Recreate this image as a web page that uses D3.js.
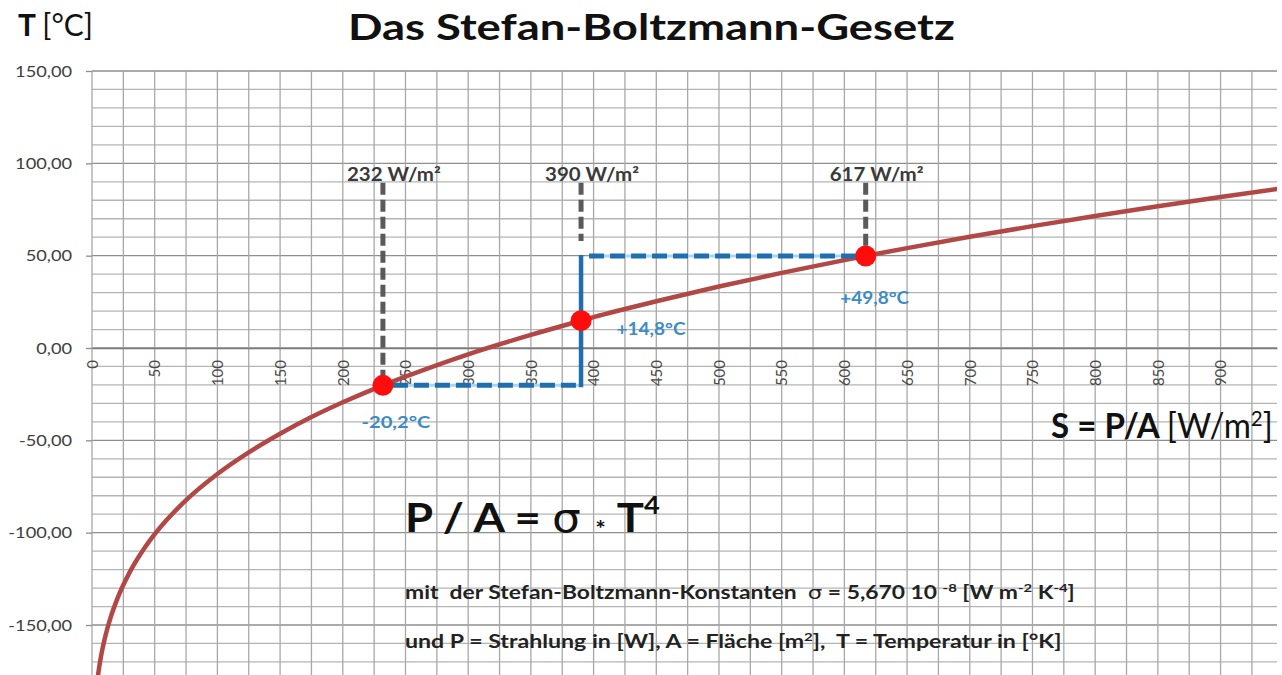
<!DOCTYPE html>
<html>
<head>
<meta charset="utf-8">
<script src="https://cdn.jsdelivr.net/npm/d3@7"></script>
<style>
  html, body { margin: 0; padding: 0; background: #fff; overflow: hidden; }
  svg { display: block; font-family: Lato, "Open Sans", sans-serif; }
  text { white-space: pre; }
</style>
</head>
<body>
<svg id="chart" width="1282" height="675"></svg>
<script>
// ---- data ----
const irradiance = [2, 3, 4, 5, 7, 10, 15, 20, 30, 40, 50, 75, 100, 125, 150, 175, 200, 232, 250, 300, 350, 390, 400, 450, 500, 550, 600, 617, 650, 700, 750, 800, 850, 900, 950];
const temperature = [-196.1, -187.9, -181.5, -176.2, -167.7, -157.9, -145.6, -136.1, -121.5, -110.2, -100.8, -82.4, -68.2, -56.5, -46.4, -37.4, -29.4, -20.2, -15.5, -3.4, 7.1, 14.8, 16.7, 25.3, 33.3, 40.7, 47.6, 49.8, 54.1, 60.2, 66.0, 71.5, 76.8, 81.8, 86.6];

const markS = [232, 390, 617];
const markT = [-20.2, 14.8, 49.8];
const markSLabels = ["232 W/m²", "390 W/m²", "617 W/m²"];
const markTLabels = ["-20,2°C", "+14,8°C", "+49,8°C"];

const xTicks = [0, 50, 100, 150, 200, 250, 300, 350, 400, 450, 500, 550, 600, 650, 700, 750, 800, 850, 900];
const yTicks = [-150, -100, -50, 0, 50, 100, 150];

// ---- layout ----
const svg = d3.select("#chart");
const pLeft = 92, pRight = 1277, pTop = 71;
const x = d3.scaleLinear().domain([0, 945]).range([pLeft, pRight]);
const y = d3.scaleLinear().domain([150, -150]).range([pTop, 625]);
const yBottom = y(-200);

// stretch a text horizontally (about its anchor x) to a target width
function fitText(sel, width) {
  sel.each(function () {
    const t = d3.select(this);
    const w = this.getComputedTextLength();
    const x0 = +t.attr("x");
    const k = width / w;
    t.attr("transform", `translate(${x0 * (1 - k)},0) scale(${k},1)`);
  });
  return sel;
}
function stretchText(sel, k) {
  sel.each(function () {
    const t = d3.select(this);
    const x0 = +t.attr("x");
    t.attr("transform", `translate(${x0 * (1 - k)},0) scale(${k},1)`);
  });
  return sel;
}

// clip
svg.append("defs").append("clipPath").attr("id", "plotclip")
  .append("rect").attr("x", pLeft).attr("y", pTop).attr("width", pRight - pLeft).attr("height", yBottom - pTop);

// grid
const grid = svg.append("g");
grid.selectAll("line.h").data(d3.range(-200, 151, 10)).join("line")
  .attr("x1", pLeft).attr("x2", pRight)
  .attr("y1", d => y(d)).attr("y2", d => y(d))
  .attr("stroke", d => d % 50 === 0 ? "#8e8e8e" : "#b4b4b4")
  .attr("stroke-width", 1.3);
grid.selectAll("line.v").data(d3.range(0, 946, 25)).join("line")
  .attr("x1", d => x(d)).attr("x2", d => x(d))
  .attr("y1", pTop).attr("y2", yBottom)
  .attr("stroke", "#a8a8a8")
  .attr("stroke-width", 1.3);

// y axis
const yAxis = d3.axisLeft(y).tickValues(yTicks).tickSize(6).tickPadding(14)
  .tickFormat(d => d3.format(".2f")(d).replace(".", ",").replace("−", "-"));
const ya = svg.append("g").attr("transform", `translate(${pLeft},0)`).call(yAxis);
ya.select(".domain").remove();
ya.selectAll(".tick line").attr("stroke", "#8e8e8e").attr("stroke-width", 1.3);
const yLabels = ya.selectAll(".tick text").attr("fill", "#404040").attr("font-size", 16).attr("font-family", "Lato, sans-serif");
const refW = yLabels.filter(d => d === 150).node().getComputedTextLength();
stretchText(yLabels, 57 / refW);

// x axis along T = 0
const xAxis = d3.axisBottom(x).tickValues(xTicks).tickSize(0).tickFormat(d3.format("d"));
const xa = svg.append("g").attr("transform", `translate(0,${y(0)})`).call(xAxis);
xa.select(".domain").attr("stroke", "#7a7a7a").attr("stroke-width", 1.5);
xa.selectAll(".tick text")
  .attr("fill", "#4a4a4a").attr("font-size", 15).attr("font-family", "Lato, sans-serif")
  .attr("text-anchor", "end")
  .attr("transform", "rotate(-90)")
  .attr("x", -12).attr("y", 0).attr("dy", "0.35em");

// curve
const line = d3.line().x((d, i) => x(irradiance[i])).y(d => y(d)).curve(d3.curveMonotoneX);
svg.append("path").datum(temperature)
  .attr("clip-path", "url(#plotclip)")
  .attr("d", line)
  .attr("fill", "none").attr("stroke", "#b24846").attr("stroke-width", 4.5);

// gray guide lines (from label down)
const guideTop = y(89.5);
const g = svg.append("g");
g.append("line").attr("x1", x(markS[0])).attr("x2", x(markS[0]))
  .attr("y1", guideTop).attr("y2", y(markT[0]))
  .attr("stroke", "#5a5a5a").attr("stroke-width", 5).attr("stroke-dasharray", "12,5");
g.append("line").attr("x1", x(markS[1])).attr("x2", x(markS[1]))
  .attr("y1", guideTop).attr("y2", y(58))
  .attr("stroke", "#5a5a5a").attr("stroke-width", 5).attr("stroke-dasharray", "12,5");
g.append("line").attr("x1", x(markS[2])).attr("x2", x(markS[2]))
  .attr("y1", guideTop).attr("y2", y(markT[2]))
  .attr("stroke", "#5a5a5a").attr("stroke-width", 5).attr("stroke-dasharray", "12,5");

// blue guide lines
const blue = "#1f6eae";
function blueDash(x1, y1, x2, y2) {
  g.append("line").attr("x1", x1).attr("x2", x2).attr("y1", y1).attr("y2", y2)
    .attr("stroke", "#a9d5f0").attr("stroke-width", 3);
  g.append("line").attr("x1", x1).attr("x2", x2).attr("y1", y1).attr("y2", y2)
    .attr("stroke", blue).attr("stroke-width", 5).attr("stroke-dasharray", "15,6");
}
blueDash(x(markS[0]) + 10, y(markT[0]), x(markS[1]), y(markT[0]));
blueDash(x(markS[1]) + 8, y(markT[2]), x(markS[2]), y(markT[2]));
g.append("line").attr("x1", x(markS[1])).attr("x2", x(markS[1]))
  .attr("y1", y(markT[0]) + 2).attr("y2", y(markT[2]) - 1)
  .attr("stroke", blue).attr("stroke-width", 4.5);

// points
svg.append("g").selectAll("circle").data(markS).join("circle")
  .attr("cx", d => x(d)).attr("cy", (d, i) => y(markT[i]))
  .attr("r", 10.5).attr("fill", "#ff0d0d");

// value labels
fitText(svg.append("g").selectAll("text").data(markSLabels).join("text")
  .attr("x", (d, i) => x(markS[i]) - 36).attr("y", 181)
  .attr("font-size", 18).attr("font-weight", 700).attr("fill", "#3a3a3a")
  .text(d => d), 94);

const tOff = [[13, 43], [70, 14], [9, 48]];
fitText(svg.append("g").selectAll("text").data(markTLabels).join("text")
  .attr("x", (d, i) => x(markS[i]) + tOff[i][0])
  .attr("y", (d, i) => y(markT[i]) + tOff[i][1])
  .attr("text-anchor", "middle")
  .attr("font-size", 16.5).attr("font-weight", 700).attr("fill", "#3b8cc4")
  .text(d => d), 69);

// title & axis titles
fitText(svg.append("text").attr("x", 348).attr("y", 40)
  .attr("font-size", 37).attr("font-weight", 700).attr("fill", "#111")
  .text("Das Stefan-Boltzmann-Gesetz"), 607);

const tl = svg.append("text").attr("x", 18).attr("y", 36).attr("font-size", 30).attr("fill", "#111");
tl.append("tspan").attr("font-weight", 700).text("T ");
tl.append("tspan").text("[°C]");
fitText(tl, 75);

const sl = svg.append("text").attr("x", 1051).attr("y", 438).attr("font-size", 35).attr("fill", "#111");
sl.append("tspan").attr("font-weight", 700).text("S = P/A ");
sl.append("tspan").text("[W/m");
sl.append("tspan").attr("font-size", "0.62em").attr("dy", "-0.55em").text("2");
sl.append("tspan").attr("dy", "0.34em").text("]");
fitText(sl, 222);

// formula
const f = svg.append("text").attr("x", 405).attr("y", 532).attr("font-size", 40)
  .attr("font-weight", 700).attr("fill", "#111");
f.append("tspan").text("P / A = ");
f.append("tspan").attr("font-weight", 400).attr("font-family", "DejaVu Sans, sans-serif").text("σ ");
f.append("tspan").attr("font-size", "0.55em").attr("dy", "0.25em").text("*");
f.append("tspan").attr("dy", "-0.14em").text(" T");
f.append("tspan").attr("font-size", "0.6em").attr("dy", "-0.75em").text("4");
fitText(f, 255);

const c1 = svg.append("text").attr("x", 405).attr("y", 599).attr("font-size", 18.5)
  .attr("font-weight", 700).attr("fill", "#222");
c1.append("tspan").text("mit  der Stefan-Boltzmann-Konstanten  ");
c1.append("tspan").attr("font-weight", 400).attr("font-family", "DejaVu Sans, sans-serif").text("σ");
c1.append("tspan").text(" = 5,670 10 ");
c1.append("tspan").attr("font-size", "0.65em").attr("dy", "-0.6em").text("-8");
c1.append("tspan").attr("dy", "0.39em").text(" [W m");
c1.append("tspan").attr("font-size", "0.65em").attr("dy", "-0.6em").text("-2");
c1.append("tspan").attr("dy", "0.39em").text(" K");
c1.append("tspan").attr("font-size", "0.65em").attr("dy", "-0.6em").text("-4");
c1.append("tspan").attr("dy", "0.39em").text("]");
fitText(c1, 670);

const c2 = svg.append("text").attr("x", 405).attr("y", 648).attr("font-size", 18.5)
  .attr("font-weight", 700).attr("fill", "#222");
c2.append("tspan").text("und P = Strahlung in [W], A = Fläche [m");
c2.append("tspan").attr("font-size", "0.65em").attr("dy", "-0.6em").text("2");
c2.append("tspan").attr("dy", "0.39em").text("],  T = Temperatur in [°K]");
fitText(c2, 657);
</script>
</body>
</html>
